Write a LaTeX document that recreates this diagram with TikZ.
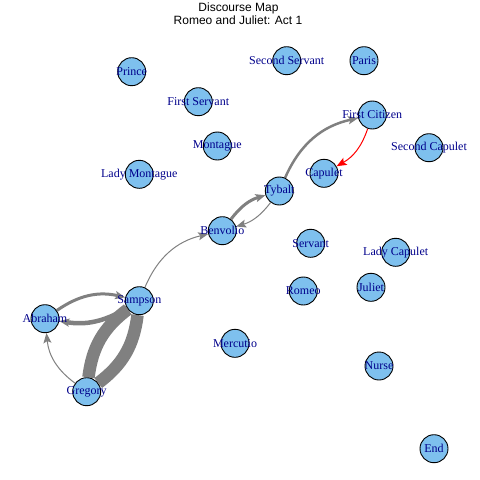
\documentclass[tikz,border=0pt]{standalone}
\usepackage{fontspec}
\setmainfont{Liberation Serif}
\newfontfamily\titlefont{Liberation Sans}
\usetikzlibrary{arrows.meta}
\pgfdeclarelayer{background}
\pgfsetlayers{background,main}
\definecolor{vfill}{HTML}{7EC0EE}
\definecolor{vlab}{HTML}{00008B}
\definecolor{egray}{HTML}{808080}
\tikzset{
  vtx/.style={circle, draw=black, line width=0.9pt, fill=vfill, minimum size=28pt, inner sep=0pt},
  vlabel/.style={text=vlab, font=\fontsize{12}{14}\selectfont, inner sep=0pt},
  ttl/.style={font=\titlefont\fontsize{12}{14}\selectfont, inner sep=0pt, anchor=base},
  edge/.style={draw=egray, -{Stealth[length=10pt,width=8pt,inset=2pt]}},
  redge/.style={edge, draw=red},
  band/.style={draw=egray, line width=12.5pt}
}
\begin{document}
\begin{tikzpicture}[x=1pt,y=1pt]
\useasboundingbox (0,0) rectangle (480,-480);
% title
\node[ttl] (t1) at (238.5,-11.5) {Discourse Map};
\node[ttl] (t2) at (238,-24) {Romeo and Juliet: Act 1};
% vertices
\node[vtx] (prince) at (131.7,-71.7) {};
\node[vtx] (secondservant) at (286.7,-60.7) {};
\node[vtx] (paris) at (364,-60.7) {};
\node[vtx] (firstservant) at (198.3,-101.7) {};
\node[vtx] (firstcitizen) at (372.3,-115) {};
\node[vtx] (montague) at (217.3,-146) {};
\node[vtx] (secondcapulet) at (429,-147.7) {};
\node[vtx] (ladymontague) at (139.3,-174.3) {};
\node[vtx] (capulet) at (324,-173.3) {};
\node[vtx] (tybalt) at (279.3,-191) {};
\node[vtx] (benvolio) at (222.3,-230.7) {};
\node[vtx] (servant) at (310.7,-243.3) {};
\node[vtx] (ladycapulet) at (395.7,-252.3) {};
\node[vtx] (romeo) at (303.3,-291) {};
\node[vtx] (juliet) at (371,-287.3) {};
\node[vtx] (sampson) at (139.3,-300.7) {};
\node[vtx] (abraham) at (45,-318.7) {};
\node[vtx] (mercutio) at (235,-343.3) {};
\node[vtx] (nurse) at (379,-366) {};
\node[vtx] (gregory) at (86.7,-391.7) {};
\node[vtx] (end) at (434,-448.7) {};
% labels
\node[vlabel] (lprince) at (prince) {Prince};
\node[vlabel] (lsecondservant) at (secondservant) {Second Servant};
\node[vlabel] (lparis) at (paris) {Paris};
\node[vlabel] (lfirstservant) at (firstservant) {First Servant};
\node[vlabel] (lfirstcitizen) at (firstcitizen) {First Citizen};
\node[vlabel] (lmontague) at (montague) {Montague};
\node[vlabel] (lsecondcapulet) at (secondcapulet) {Second Capulet};
\node[vlabel] (lladymontague) at (ladymontague) {Lady Montague};
\node[vlabel] (lcapulet) at (capulet) {Capulet};
\node[vlabel] (ltybalt) at (tybalt) {Tybalt};
\node[vlabel] (lbenvolio) at (benvolio) {Benvolio};
\node[vlabel] (lservant) at (servant) {Servant};
\node[vlabel] (lladycapulet) at (ladycapulet) {Lady Capulet};
\node[vlabel] (lromeo) at (romeo) {Romeo};
\node[vlabel] (ljuliet) at (juliet) {Juliet};
\node[vlabel] (lsampson) at (sampson) {Sampson};
\node[vlabel] (labraham) at (abraham) {Abraham};
\node[vlabel] (lmercutio) at (mercutio) {Mercutio};
\node[vlabel] (lnurse) at (nurse) {Nurse};
\node[vlabel] (lgregory) at (gregory) {Gregory};
\node[vlabel] (lend) at (end) {End};
% edges
\begin{pgfonlayer}{background}
\draw[edge, line width=1pt] (sampson) to[bend left=27] (benvolio);
\draw[edge, line width=3pt] (benvolio) to[bend left=18] (tybalt);
\draw[edge, line width=1pt] (tybalt) to[bend left=18] (benvolio);
\draw[edge, line width=2.5pt] (tybalt) to[bend left=27] (firstcitizen);
\draw[redge, line width=1pt] (firstcitizen) to[bend left=21] (capulet);
\draw[edge, line width=3pt] (abraham) to[bend left=24] (sampson);
\draw[edge, line width=4.5pt] (sampson) to[bend left=20] (abraham);
\draw[edge, line width=1pt] (gregory) to[bend left=24] (abraham);
\draw[band] (gregory) to[bend left=23] (sampson);
\draw[band] (sampson) to[bend left=23] (gregory);
\end{pgfonlayer}
\end{tikzpicture}
\end{document}
